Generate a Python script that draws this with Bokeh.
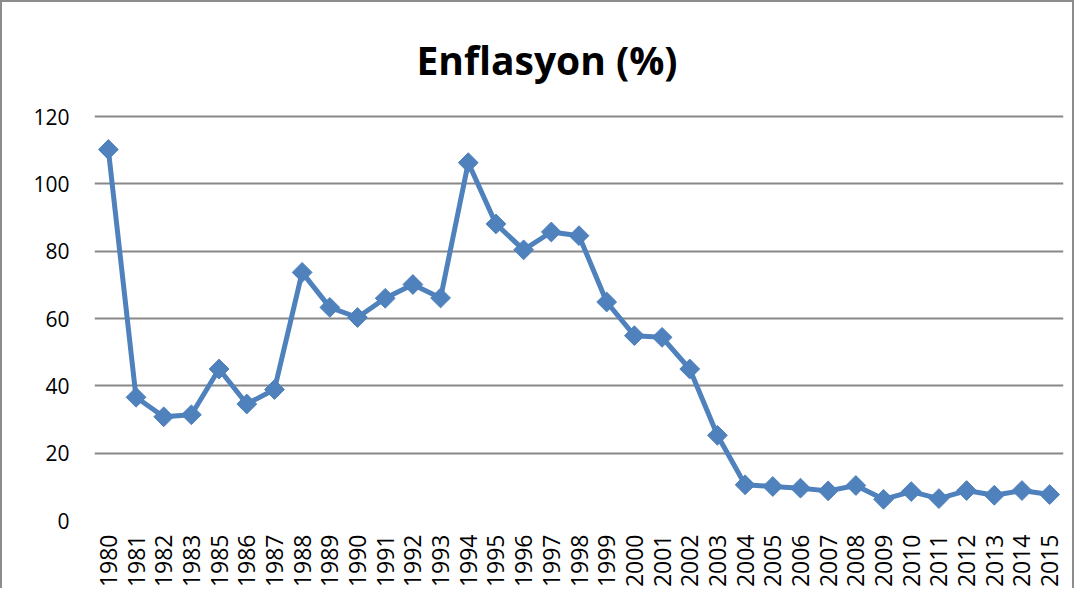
import math
from bokeh.plotting import figure
from bokeh.models import FixedTicker, FactorRange, Range1d
from bokeh.embed import file_html
from bokeh.resources import INLINE

years = ["1980", "1981", "1982", "1983", "1985", "1986", "1987", "1988", "1989",
         "1990", "1991", "1992", "1993", "1994", "1995", "1996", "1997", "1998",
         "1999", "2000", "2001", "2002", "2003", "2004", "2005", "2006", "2007",
         "2008", "2009", "2010", "2011", "2012", "2013", "2014", "2015"]
inflation = [110.2, 36.6, 30.8, 31.4, 45.0, 34.6, 38.9, 73.7, 63.3,
             60.3, 66.0, 70.1, 66.1, 106.3, 88.1, 80.4, 85.7, 84.6,
             64.9, 54.9, 54.4, 45.0, 25.3, 10.6, 10.1, 9.6, 8.8,
             10.4, 6.3, 8.6, 6.5, 8.9, 7.5, 8.9, 7.7]
y_ticks = [0, 20, 40, 60, 80, 100, 120]
title_text = "Enflasyon (%)"

BLUE = "#4F81BD"
GRID = "#888888"
FONT = "Open Sans"

p = figure(width=1074, height=588, output_backend="svg", toolbar_location=None,
           x_range=FactorRange(*years), y_range=Range1d(0, 120.6),
           min_border_left=92, min_border_right=13, min_border_top=112,
           min_border_bottom=69, title=title_text)
p.styles = {"border-left": "2px solid #8c8c8c", "border-top": "2px solid #8c8c8c",
            "border-right": "2px solid #8c8c8c"}

p.title.text_font = FONT
p.title.text_font_size = "39px"
p.title.text_font_style = "bold"
p.title.text_color = "black"
p.title.align = "left"
p.title.vertical_align = "top"
p.title.offset = 322
p.title.standoff = 54

p.outline_line_color = None
p.background_fill_color = "white"
p.border_fill_color = "white"

p.xgrid.grid_line_color = None
p.ygrid.grid_line_color = GRID
p.ygrid.grid_line_width = 2
p.yaxis.ticker = FixedTicker(ticks=y_ticks)

for ax in (p.xaxis[0], p.yaxis[0]):
    ax.axis_line_color = None
    ax.major_tick_line_color = None
    ax.minor_tick_line_color = None
    ax.major_tick_out = 0
    ax.major_tick_in = 0
    ax.major_label_text_font = FONT
    ax.major_label_text_color = "black"

p.yaxis.major_label_text_font_size = "21px"
p.xaxis.major_label_text_font_size = "23px"
p.yaxis.major_label_standoff = 25
p.xaxis.major_label_standoff = 14
p.xaxis.major_label_orientation = math.pi / 2
p.x_range.range_padding = 0

p.line(years, inflation, line_color=BLUE, line_width=5, line_join="round")
p.scatter(years, inflation, marker="square", size=14, angle=math.pi / 4,
          fill_color=BLUE, line_color=BLUE, line_width=1)

open("out.html", "w").write(file_html(p, INLINE))
